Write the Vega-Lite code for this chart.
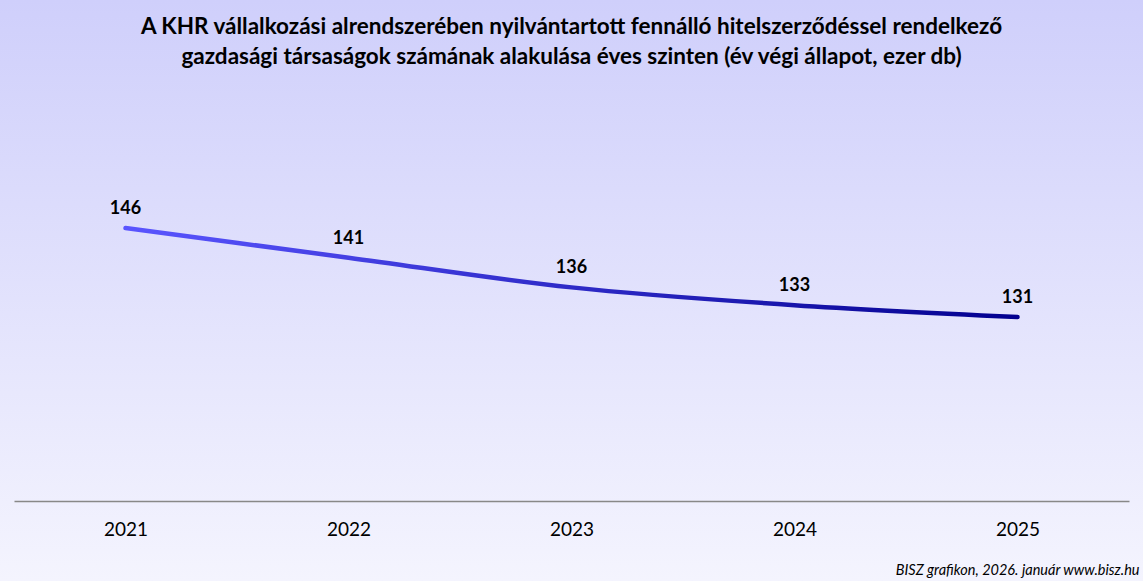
{
  "$schema": "https://vega.github.io/schema/vega-lite/v6.json",
  "width": 1143,
  "height": 581,
  "autosize": {"type": "none"},
  "padding": 0,
  "background": "#f4f4fe",
  "config": {
    "view": {
      "stroke": null,
      "fill": {"gradient": "linear", "x1": 0, "y1": 0, "x2": 0, "y2": 1,
        "stops": [{"offset": 0, "color": "#cfcffb"}, {"offset": 1, "color": "#f4f4fe"}]}
    },
    "font": "Lato"
  },
  "title": {
    "text": ["A KHR vállalkozási alrendszerében nyilvántartott  fennálló hitelszerződéssel rendelkező", "gazdasági társaságok számának alakulása éves szinten (év végi állapot, ezer db)"],
    "font": "Lato",
    "fontSize": 22.5,
    "fontWeight": "bold",
    "color": "#000000",
    "anchor": "middle",
    "lineHeight": 30,
    "baseline": "top",
    "offset": -68
  },
  "data": {
    "values": [
      {"year": "2021", "value": 146},
      {"year": "2022", "value": 141},
      {"year": "2023", "value": 136},
      {"year": "2024", "value": 133},
      {"year": "2025", "value": 131}
    ]
  },
  "encoding": {
    "x": {
      "field": "year", "type": "ordinal",
      "scale": {"type": "point", "range": [14, 1129], "padding": 0.5},
      "axis": {
        "offset": -80,
        "labelAngle": 0,
        "labelFont": "Lato",
        "labelFontSize": 19,
        "labelColor": "#000000",
        "labelPadding": 19,
        "ticks": false,
        "grid": false,
        "domainColor": "#888888",
        "domainWidth": 1.5,
        "title": "BISZ grafikon, 2026. január www.bisz.hu",
        "titleFont": "Lato",
        "titleFontSize": 14.5,
        "titleFontStyle": "italic",
        "titleFontWeight": "normal",
        "titleColor": "#000000",
        "titleAlign": "right",
        "titleAnchor": "end",
        "titleBaseline": "alphabetic",
        "titleX": 1139,
        "titleY": 73
      }
    },
    "y": {
      "field": "value", "type": "quantitative",
      "scale": {"domain": [100, 150], "range": [501, 204.3], "zero": false},
      "axis": null
    }
  },
  "layer": [
    {
      "mark": {
        "type": "line",
        "interpolate": "monotone",
        "strokeWidth": 4.5,
        "strokeCap": "round",
        "color": {"gradient": "linear", "x1": 0, "y1": 0, "x2": 1, "y2": 0,
          "stops": [{"offset": 0, "color": "#5a55ff"}, {"offset": 1, "color": "#02008f"}]}
      }
    },
    {
      "mark": {"type": "text", "dy": -19, "font": "Lato", "fontSize": 18, "fontWeight": "bold", "color": "#000000"},
      "encoding": {"text": {"field": "value", "type": "quantitative"}}
    }
  ]
}
